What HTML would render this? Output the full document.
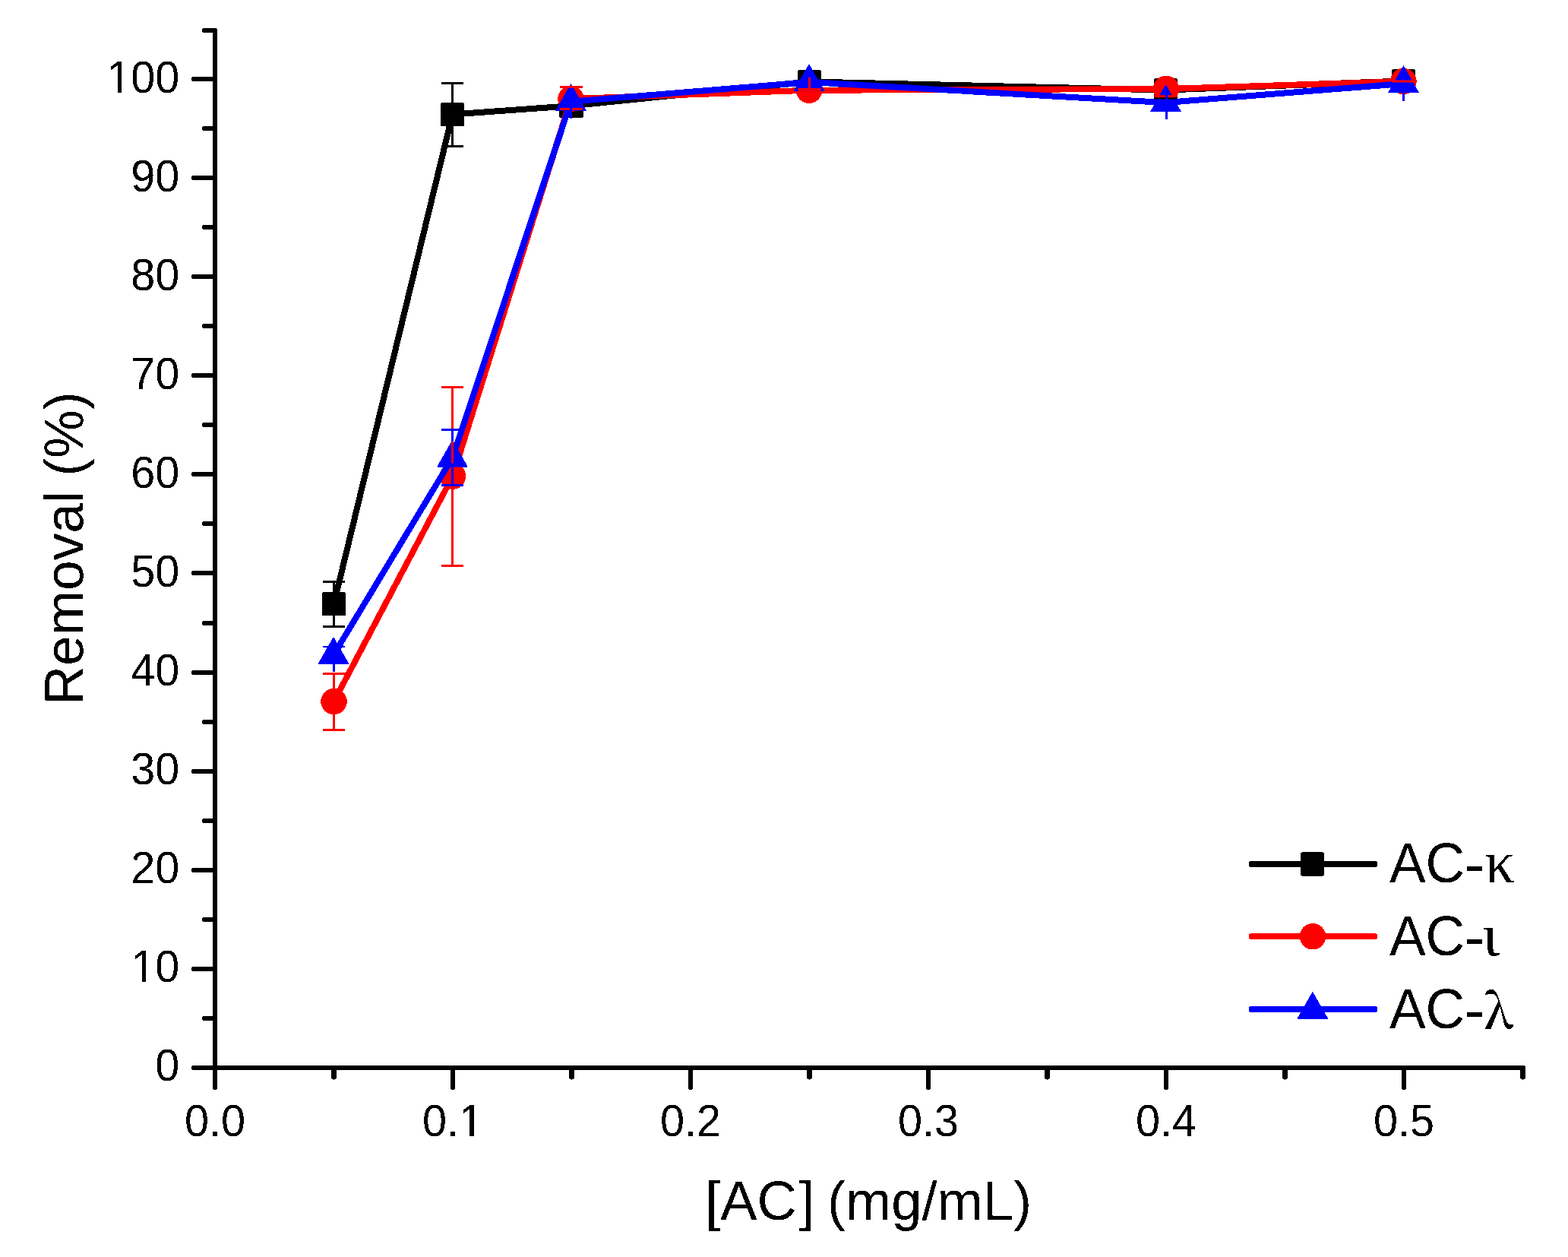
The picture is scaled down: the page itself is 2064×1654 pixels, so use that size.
<!DOCTYPE html>
<html><head><meta charset="utf-8"><title>Removal vs [AC]</title>
<style>
html,body{margin:0;padding:0;background:#fff;}
body{width:2064px;height:1654px;overflow:hidden;}
svg{display:block;}
text{font-family:"Liberation Sans",Arial,sans-serif;fill:#000;}
.g{font-family:"Liberation Serif","Times New Roman",serif;}
.n{font-family:"Noto Serif CJK SC","Liberation Serif",serif;font-weight:600;}
</style></head><body>
<svg width="2064" height="1654" viewBox="0 0 2064 1654">
<defs><filter id="crisp" x="0" y="0" width="100%" height="100%" color-interpolation-filters="sRGB"><feComponentTransfer><feFuncA type="discrete" tableValues="0 1"/></feComponentTransfer></filter></defs>
<rect width="2064" height="1654" fill="#fff"/>
<g filter="url(#crisp)">

<g fill="#000"><rect x="280.0" y="37.0" width="6.0" height="1371.0" rx="1.5"/><rect x="280.0" y="1402.0" width="1728.0" height="6.0" rx="1.5"/><rect x="252.0" y="1402.0" width="33.0" height="6.0" rx="2"/><rect x="252.0" y="1272.0" width="33.0" height="6.0" rx="2"/><rect x="252.0" y="1142.0" width="33.0" height="6.0" rx="2"/><rect x="252.0" y="1012.0" width="33.0" height="6.0" rx="2"/><rect x="252.0" y="882.0" width="33.0" height="6.0" rx="2"/><rect x="252.0" y="751.0" width="33.0" height="6.0" rx="2"/><rect x="252.0" y="621.0" width="33.0" height="6.0" rx="2"/><rect x="252.0" y="491.0" width="33.0" height="6.0" rx="2"/><rect x="252.0" y="361.0" width="33.0" height="6.0" rx="2"/><rect x="252.0" y="231.0" width="33.0" height="6.0" rx="2"/><rect x="252.0" y="101.0" width="33.0" height="6.0" rx="2"/><rect x="266.0" y="1337.0" width="19.0" height="6.0" rx="2"/><rect x="266.0" y="1207.0" width="19.0" height="6.0" rx="2"/><rect x="266.0" y="1077.0" width="19.0" height="6.0" rx="2"/><rect x="266.0" y="947.0" width="19.0" height="6.0" rx="2"/><rect x="266.0" y="817.0" width="19.0" height="6.0" rx="2"/><rect x="266.0" y="686.0" width="19.0" height="6.0" rx="2"/><rect x="266.0" y="556.0" width="19.0" height="6.0" rx="2"/><rect x="266.0" y="426.0" width="19.0" height="6.0" rx="2"/><rect x="266.0" y="296.0" width="19.0" height="6.0" rx="2"/><rect x="266.0" y="166.0" width="19.0" height="6.0" rx="2"/><rect x="266.0" y="37.0" width="19.0" height="6.0" rx="2"/><rect x="280.0" y="1403.0" width="6.0" height="31.0" rx="2"/><rect x="593.0" y="1403.0" width="6.0" height="31.0" rx="2"/><rect x="906.0" y="1403.0" width="6.0" height="31.0" rx="2"/><rect x="1219.0" y="1403.0" width="6.0" height="31.0" rx="2"/><rect x="1532.0" y="1403.0" width="6.0" height="31.0" rx="2"/><rect x="1845.0" y="1403.0" width="6.0" height="31.0" rx="2"/><rect x="436.5" y="1403.0" width="6.0" height="17.5" rx="2"/><rect x="749.5" y="1403.0" width="6.0" height="17.5" rx="2"/><rect x="1062.5" y="1403.0" width="6.0" height="17.5" rx="2"/><rect x="1375.5" y="1403.0" width="6.0" height="17.5" rx="2"/><rect x="1688.5" y="1403.0" width="6.0" height="17.5" rx="2"/><rect x="2001.5" y="1403.0" width="6.0" height="17.5" rx="2"/></g>
<g font-size="57.6"><text transform="translate(236.3,1422.34) scale(1,1.025)" text-anchor="end">0</text><text transform="translate(236.3,1292.34) scale(1,1.025)" text-anchor="end">10</text><text transform="translate(236.3,1162.34) scale(1,1.025)" text-anchor="end">20</text><text transform="translate(236.3,1032.34) scale(1,1.025)" text-anchor="end">30</text><text transform="translate(236.3,902.34) scale(1,1.025)" text-anchor="end">40</text><text transform="translate(236.3,772.34) scale(1,1.025)" text-anchor="end">50</text><text transform="translate(236.3,642.34) scale(1,1.025)" text-anchor="end">60</text><text transform="translate(236.3,512.34) scale(1,1.025)" text-anchor="end">70</text><text transform="translate(236.3,382.34) scale(1,1.025)" text-anchor="end">80</text><text transform="translate(236.3,252.34) scale(1,1.025)" text-anchor="end">90</text><text transform="translate(236.3,122.34) scale(1,1.025)" text-anchor="end">100</text><text transform="translate(283.0,1494.5) scale(1,1.025)" text-anchor="middle">0.0</text><text transform="translate(596.0,1494.5) scale(1,1.025)" text-anchor="middle">0.1</text><text transform="translate(909.0,1494.5) scale(1,1.025)" text-anchor="middle">0.2</text><text transform="translate(1222.0,1494.5) scale(1,1.025)" text-anchor="middle">0.3</text><text transform="translate(1535.0,1494.5) scale(1,1.025)" text-anchor="middle">0.4</text><text transform="translate(1848.0,1494.5) scale(1,1.025)" text-anchor="middle">0.5</text></g>
<text transform="translate(1143.1,1605) scale(1,1.01)" font-size="72.3" text-anchor="middle">[AC<tspan dx="3">]</tspan><tspan dx="-3"> </tspan>(mg/mL)</text>
<text transform="translate(109,721.5) rotate(-90) scale(1,1.01)" font-size="71.3" text-anchor="middle">Removal (%)</text>
<polyline points="439.5,794.5 595.5,150.5 752,139.3 1065.5,107.5 1534.5,118.5 1847.5,106.5" fill="none" stroke="#000" stroke-width="8" stroke-linejoin="round"/>
<rect x="424.0" y="779.0" width="31" height="31" rx="1.5" fill="#000"/><rect x="580.0" y="135.0" width="31" height="31" rx="1.5" fill="#000"/><rect x="736.5" y="123.8" width="31" height="31" rx="1.5" fill="#000"/><rect x="1050.0" y="92.0" width="31" height="31" rx="1.5" fill="#000"/><rect x="1519.0" y="103.0" width="31" height="31" rx="1.5" fill="#000"/><rect x="1832.0" y="91.0" width="31" height="31" rx="1.5" fill="#000"/>
<polyline points="439.5,923 596,626.5 751.5,130 1065,118.8 1535,117 1847.4,107" fill="none" stroke="#f00" stroke-width="8" stroke-linejoin="round"/>
<circle cx="439.5" cy="923" r="17.25" fill="#f00"/><circle cx="596" cy="626.5" r="17.25" fill="#f00"/><circle cx="751.5" cy="130" r="17.25" fill="#f00"/><circle cx="1065" cy="118.8" r="17.25" fill="#f00"/><circle cx="1535" cy="117" r="17.25" fill="#f00"/><circle cx="1847.4" cy="107" r="17.25" fill="#f00"/>
<polyline points="439,861.8 595.5,602.5 751.5,133.8 1065,108 1534.5,135 1847.5,110" fill="none" stroke="#00f" stroke-width="8" stroke-linejoin="round"/>
<polygon points="439.0,837.8 459.5,873.8 418.5,873.8" fill="#00f"/><polygon points="595.5,578.5 616.0,614.5 575.0,614.5" fill="#00f"/><polygon points="751.5,109.8 772.0,145.8 731.0,145.8" fill="#00f"/><polygon points="1065.0,84.0 1085.5,120.0 1044.5,120.0" fill="#00f"/><polygon points="1534.5,111.0 1555.0,147.0 1514.0,147.0" fill="#00f"/><polygon points="1847.5,86.0 1868.0,122.0 1827.0,122.0" fill="#00f"/>
<line x1="424.5" y1="765.4" x2="454.5" y2="765.4" stroke="#000" stroke-width="3"/><line x1="439.5" y1="765.4" x2="439.5" y2="779" stroke="#000" stroke-width="3"/><line x1="424.5" y1="824.2" x2="454.5" y2="824.2" stroke="#000" stroke-width="3"/><line x1="439.5" y1="810" x2="439.5" y2="824.2" stroke="#000" stroke-width="3"/><line x1="580.5" y1="109.5" x2="610.5" y2="109.5" stroke="#000" stroke-width="3"/><line x1="595.5" y1="109.5" x2="595.5" y2="135" stroke="#000" stroke-width="3"/><line x1="580.5" y1="192.4" x2="610.5" y2="192.4" stroke="#000" stroke-width="3"/><line x1="595.5" y1="165.8" x2="595.5" y2="192.4" stroke="#000" stroke-width="3"/><line x1="1519.5" y1="129.1" x2="1549.5" y2="129.1" stroke="#000" stroke-width="3"/><line x1="424.5" y1="886.5" x2="454.5" y2="886.5" stroke="#f00" stroke-width="3"/><line x1="439.5" y1="886.5" x2="439.5" y2="906" stroke="#f00" stroke-width="3"/><line x1="424.5" y1="960.5" x2="454.5" y2="960.5" stroke="#f00" stroke-width="3"/><line x1="439.5" y1="940" x2="439.5" y2="960.5" stroke="#f00" stroke-width="3"/><line x1="580.5" y1="509.4" x2="610.5" y2="509.4" stroke="#f00" stroke-width="3"/><line x1="595.5" y1="509.4" x2="595.5" y2="609.5" stroke="#f00" stroke-width="3"/><line x1="580.5" y1="744.6" x2="610.5" y2="744.6" stroke="#f00" stroke-width="3"/><line x1="595.5" y1="643.5" x2="595.5" y2="744.6" stroke="#f00" stroke-width="3"/><line x1="737.0" y1="114.2" x2="767.0" y2="114.2" stroke="#f00" stroke-width="3"/><line x1="737.0" y1="143.4" x2="767.0" y2="143.4" stroke="#f00" stroke-width="3"/><line x1="1065.5" y1="102" x2="1065.5" y2="117" stroke="#f00" stroke-width="3"/><line x1="1050.5" y1="117.9" x2="1080.5" y2="117.9" stroke="#f00" stroke-width="3.8"/><line x1="1519.5" y1="126.7" x2="1549.5" y2="126.7" stroke="#f00" stroke-width="3"/><line x1="1535.5" y1="131.8" x2="1535.5" y2="133.8" stroke="#f00" stroke-width="3"/><line x1="1832.5" y1="107" x2="1862.5" y2="107" stroke="#f00" stroke-width="3"/><line x1="424.5" y1="851" x2="454.5" y2="851" stroke="#00f" stroke-width="3"/><line x1="439.5" y1="873" x2="439.5" y2="883.7" stroke="#00f" stroke-width="3"/><line x1="580.5" y1="565.5" x2="610.5" y2="565.5" stroke="#00f" stroke-width="3"/><line x1="595.5" y1="565.5" x2="595.5" y2="581" stroke="#00f" stroke-width="3"/><line x1="580.5" y1="638.4" x2="610.5" y2="638.4" stroke="#00f" stroke-width="3"/><line x1="595.5" y1="614" x2="595.5" y2="638.4" stroke="#00f" stroke-width="3"/><line x1="751.5" y1="140" x2="751.5" y2="155.8" stroke="#00f" stroke-width="3"/><line x1="1535.5" y1="124" x2="1535.5" y2="157" stroke="#00f" stroke-width="3"/><line x1="1847.5" y1="121" x2="1847.5" y2="132.8" stroke="#00f" stroke-width="3"/>
<rect x="1644" y="1132.9" width="169" height="8" rx="3" fill="#000"/><rect x="1711.8" y="1121.4" width="31" height="31" rx="1.5" fill="#000"/><text transform="translate(1828.9,1160.8) scale(1,1.033)" font-size="71.5">AC</text><text transform="translate(1927.3,1161.7) scale(1.15,1)" font-size="71.5">-</text><text class="g" x="1954.5" y="1160.8" font-size="78.5">κ</text><rect x="1644" y="1228.2" width="169" height="8" rx="3" fill="#f00"/><circle cx="1728" cy="1232.2" r="17.25" fill="#f00"/><text transform="translate(1828.9,1256.8) scale(1,1.033)" font-size="71.5">AC</text><text transform="translate(1927.3,1257.7) scale(1.15,1)" font-size="71.5">-</text><text class="g" transform="translate(1951,1256.8) scale(1.1,1)" font-size="78.3">ι</text><rect x="1644" y="1323.9" width="169" height="8" rx="3" fill="#00f"/><polygon points="1727.8,1304.6 1748.3,1340.6 1707.3,1340.6" fill="#00f"/><text transform="translate(1828.9,1352.6) scale(1,1.033)" font-size="71.5">AC</text><text transform="translate(1927.3,1353.5) scale(1.15,1)" font-size="71.5">-</text><text class="n" x="1953.6" y="1352.6" font-size="63">λ</text>
</g>
<g fill="#fff" shape-rendering="crispEdges"><rect x="143" y="117" width="12" height="6"/><rect x="160" y="117" width="11" height="6"/><rect x="175" y="1287" width="12" height="6"/><rect x="192" y="1287" width="11" height="6"/><rect x="607" y="1489" width="11" height="7"/><rect x="624" y="1489" width="11" height="7"/></g>
</svg>
</body></html>
